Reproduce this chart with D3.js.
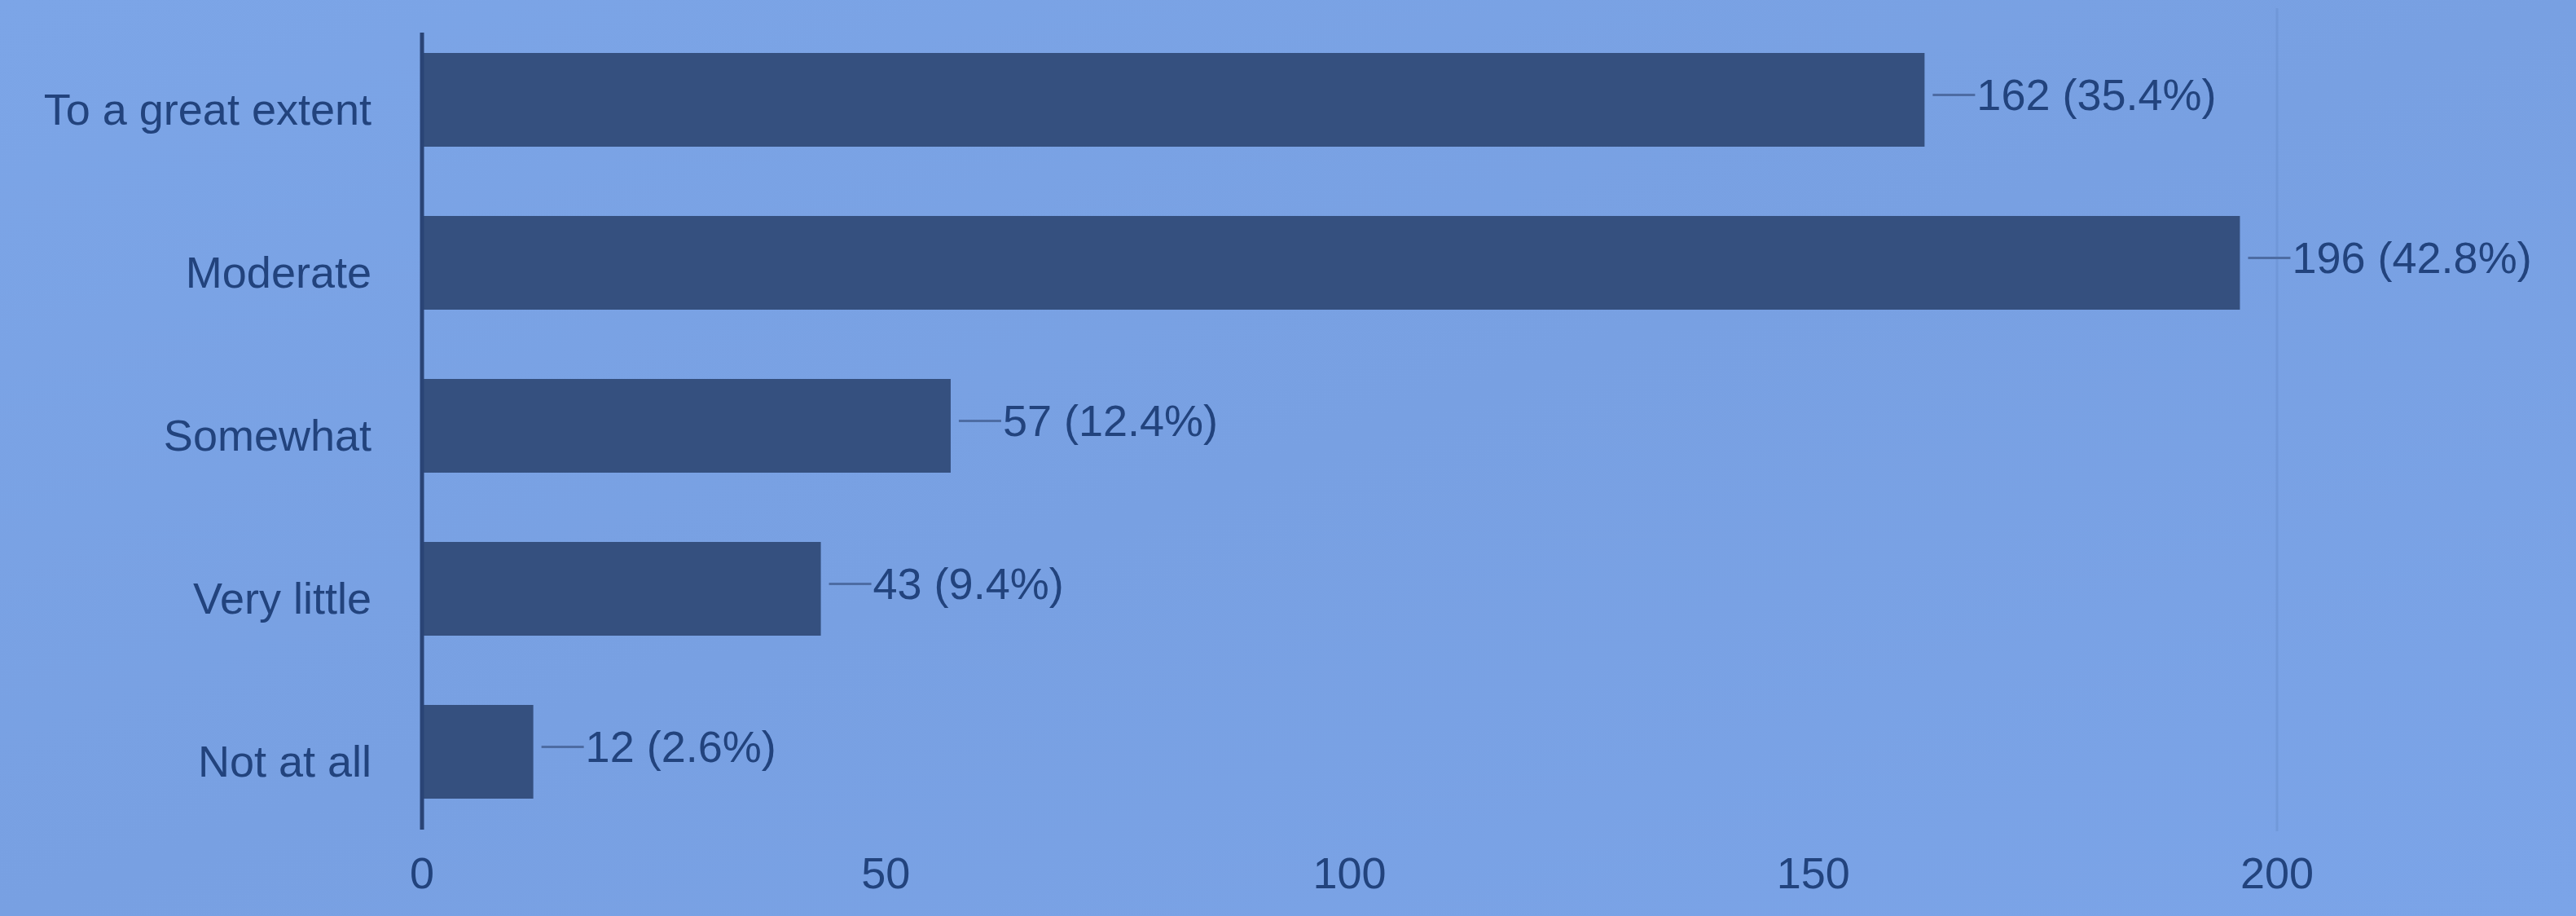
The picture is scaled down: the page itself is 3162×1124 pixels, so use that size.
<!DOCTYPE html>
<html>
<head>
<meta charset="utf-8">
<script src="https://cdn.jsdelivr.net/npm/d3@7"></script>
<style>
  html, body { margin: 0; padding: 0; background: #7aa3e5; }
  svg { display: block; }
</style>
</head>
<body>
<svg id="chart" width="3162" height="1124"></svg>
<script>
const categories = ["To a great extent", "Moderate", "Somewhat", "Very little", "Not at all"];
const counts = [162, 196, 57, 43, 12];
const percents = ["35.4%", "42.8%", "12.4%", "9.4%", "2.6%"];
const xTicks = [0, 50, 100, 150, 200];

const W = 3162, H = 1124;
const svg = d3.select("#chart");

const defs = svg.append("defs");
const grad = defs.append("linearGradient").attr("id", "bg").attr("x1", 0).attr("y1", 0).attr("x2", 1).attr("y2", 1);
grad.append("stop").attr("offset", "0%").attr("stop-color", "#7ca5e7");
grad.append("stop").attr("offset", "50%").attr("stop-color", "#78a0e2");
grad.append("stop").attr("offset", "100%").attr("stop-color", "#7ba4e8");
svg.append("rect").attr("width", W).attr("height", H).attr("fill", "url(#bg)");

const x = d3.scaleLinear().domain([0, 200]).range([518, 2795]);
const y = d3.scaleBand().domain(categories).range([41, 1004]).paddingInner(0.425).paddingOuter(0.12);

const font = "Liberation Sans, Arial, Helvetica, sans-serif";
const textColor = "#22437d";

// faint gridline at the last tick
svg.append("g").selectAll("line").data(xTicks.slice(-1)).join("line")
  .attr("x1", d => x(d)).attr("x2", d => x(d))
  .attr("y1", 10).attr("y2", 1020)
  .attr("stroke", "#6e95d5").attr("stroke-width", 3).attr("opacity", 0.7);

// bars
svg.append("g").selectAll("rect").data(categories).join("rect")
  .attr("x", x(0))
  .attr("y", d => y(d))
  .attr("width", (d, i) => x(counts[i]) - x(0))
  .attr("height", y.bandwidth())
  .attr("fill", "#35507f");

// vertical axis line
svg.append("line")
  .attr("x1", x(0)).attr("x2", x(0))
  .attr("y1", 40).attr("y2", 1018)
  .attr("stroke", "#2a4476").attr("stroke-width", 5);

// category labels
svg.append("g").selectAll("text").data(categories).join("text")
  .attr("x", 456)
  .attr("y", d => y(d) + y.bandwidth() / 2 + 12)
  .attr("dy", "0.35em")
  .attr("text-anchor", "end")
  .attr("font-family", font)
  .attr("font-size", 54)
  .attr("fill", textColor)
  .text(d => d);

// leader lines + value labels
const lab = svg.append("g");
categories.forEach((c, i) => {
  const xe = x(counts[i]);
  const yc = y(c) + y.bandwidth() / 2 - 6;
  lab.append("line")
    .attr("x1", xe + 10).attr("x2", xe + 62)
    .attr("y1", yc).attr("y2", yc)
    .attr("stroke", "#4d6ca3").attr("stroke-width", 3);
  lab.append("text")
    .attr("x", xe + 64)
    .attr("y", yc)
    .attr("dy", "0.35em")
    .attr("font-family", font)
    .attr("font-size", 54)
    .attr("fill", textColor)
    .text(`${counts[i]} (${percents[i]})`);
});

// x axis tick labels
svg.append("g").selectAll("text").data(xTicks).join("text")
  .attr("x", d => x(d))
  .attr("y", 1090)
  .attr("text-anchor", "middle")
  .attr("font-family", font)
  .attr("font-size", 54)
  .attr("fill", textColor)
  .text(d => d);
</script>
</body>
</html>
